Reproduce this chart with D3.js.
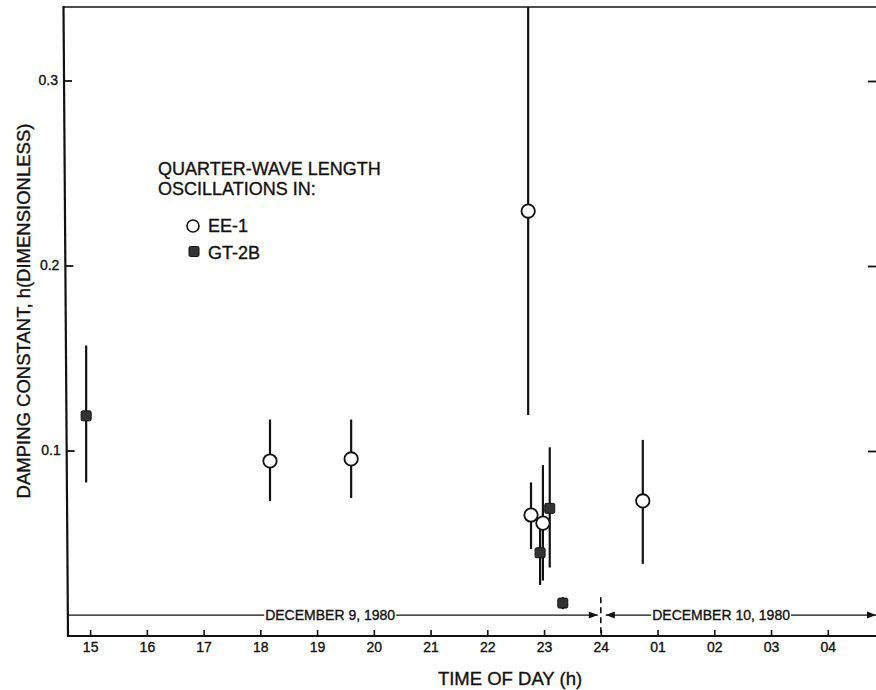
<!DOCTYPE html>
<html>
<head>
<meta charset="utf-8">
<script src="https://cdn.jsdelivr.net/npm/d3@7"></script>
<style>
  body { margin: 0; background: #fff; }
  svg { display: block; font-family: "Liberation Sans", Arial, Helvetica, sans-serif; }
  text { fill: #111; stroke: #111; stroke-width: 0.35; }
  .bar { stroke: #111; stroke-width: 2.2; }
  .frame { stroke: #111; fill: none; }
</style>
</head>
<body>
<svg id="chart" width="876" height="690"></svg>
<script>
// hour of day, counted on from 15 h on Dec 9 (25 = 01 h on Dec 10)
var tickHours = [15, 16, 17, 18, 19, 20, 21, 22, 23, 24, 25, 26, 27, 28];
var tickLabels = ["15", "16", "17", "18", "19", "20", "21", "22", "23", "24", "01", "02", "03", "04"];
var yTicks = [0.1, 0.2, 0.3];
var yTickLabels = ["0.1", "0.2", "0.3"];

// EE-1 (open circles)
var eeHours = [18.17, 19.6, 22.72, 22.77, 22.98, 24.74];
var eeValues = [0.0946, 0.0957, 0.2297, 0.0654, 0.061, 0.073];
var eeLow = [0.073, 0.0746, 0.1195, 0.047, 0.030, 0.039];
var eeHigh = [0.117, 0.117, 0.36, 0.083, 0.0924, 0.106];

// GT-2B (filled squares)
var gtHours = [14.93, 22.93, 23.1, 23.33];
var gtValues = [0.119, 0.045, 0.069, 0.0178];
var gtLow = [0.083, 0.0276, 0.037, 0.0145];
var gtHigh = [0.157, 0.060, 0.102, 0.021];

(function() {
	var svg = d3.select("#chart");
	var pLeft = 68, pRight = 876, pTop = 7, pBottom = 636;

	var x = d3.scaleLinear().domain([14.61, 28.85]).range([pLeft, pRight]);
	var y = d3.scaleLinear().domain([0, 0.34]).range([pBottom, pTop]);

	// the scanned left edge leans a little: x=63.5 at the top, 68 at the bottom
	var leftEdge = function(py) {
		return 63.5 + 4.5 * (py - pTop) / (pBottom - pTop);
	};

	svg.append("defs").append("clipPath").attr("id", "plot")
		.append("rect").attr("x", pLeft - 4).attr("y", pTop).attr("width", pRight - pLeft + 4).attr("height", pBottom - pTop);

	// frame: left, top, bottom (no right edge inside the picture)
	svg.append("line").attr("class", "frame")
		.attr("x1", leftEdge(pTop)).attr("y1", pTop - 1).attr("x2", leftEdge(pBottom)).attr("y2", pBottom + 1)
		.attr("stroke-width", 2.2);
	svg.append("line").attr("class", "frame").attr("x1", leftEdge(pTop)).attr("y1", pTop).attr("x2", pRight).attr("y2", pTop).attr("stroke-width", 1.6);
	svg.append("line").attr("class", "frame").attr("x1", pLeft).attr("y1", pBottom).attr("x2", pRight).attr("y2", pBottom).attr("stroke-width", 2);

	// x axis, ticks pointing up into the plot
	var xAxis = d3.axisBottom(x)
		.tickValues(tickHours)
		.tickSize(-6)
		.tickPadding(6)
		.tickFormat(function(d, i) { return tickLabels[i]; });

	var gx = svg.append("g").attr("transform", "translate(0," + pBottom + ")").call(xAxis);
	gx.select(".domain").remove();
	gx.selectAll(".tick line").attr("stroke", "#111").attr("stroke-width", 1.6);
	gx.selectAll(".tick text").attr("font-size", 14).attr("font-family", "Liberation Sans, Arial, sans-serif");

	// y axis ticks on the left and on the right, both pointing inward
	var gy = svg.append("g")
		.call(d3.axisLeft(y).tickValues(yTicks).tickSize(-8).tickPadding(6)
			.tickFormat(function(d, i) { return yTickLabels[i]; }));
	gy.select(".domain").remove();
	gy.selectAll(".tick").attr("transform", function(d) {
		return "translate(" + leftEdge(y(d)) + "," + y(d) + ")";
	});
	gy.selectAll(".tick line").attr("stroke", "#111").attr("stroke-width", 1.8);
	gy.selectAll(".tick text").attr("font-size", 14).attr("font-family", "Liberation Sans, Arial, sans-serif");

	var gyr = svg.append("g").attr("transform", "translate(" + pRight + ",0)")
		.call(d3.axisRight(y).tickValues(yTicks).tickSize(-8).tickFormat(""));
	gyr.select(".domain").remove();
	gyr.selectAll(".tick line").attr("stroke", "#111").attr("stroke-width", 1.8);

	// axis titles
	svg.append("text")
		.attr("x", 510).attr("y", 685)
		.attr("text-anchor", "middle")
		.attr("font-size", 18.5)
		.text("TIME OF DAY (h)");

	svg.append("text")
		.attr("transform", "translate(30,311) rotate(-90)")
		.attr("text-anchor", "middle")
		.attr("font-size", 18.5)
		.text("DAMPING CONSTANT, h(DIMENSIONLESS)");

	// date annotations along the bottom
	var dateY = y(0.0113);
	var arrow = function(px, dir) {
		var l = 9, w = 3.5;
		svg.append("path")
			.attr("d", "M" + px + "," + dateY + "L" + (px - dir * l) + "," + (dateY - w) + "L" + (px - dir * l) + "," + (dateY + w) + "Z")
			.attr("fill", "#111");
	};
	var dateLabel = function(label, cx, x1, x2, arrowLeft, arrowRight) {
		var t = svg.append("text")
			.attr("x", cx).attr("y", dateY + 5)
			.attr("text-anchor", "middle")
			.attr("font-size", 14)
			.text(label);
		var half = t.node().getComputedTextLength() / 2;
		svg.append("line").attr("x1", x1).attr("x2", cx - half - 1).attr("y1", dateY).attr("y2", dateY)
			.attr("stroke", "#111").attr("stroke-width", 1.2);
		svg.append("line").attr("x1", cx + half + 1).attr("x2", x2).attr("y1", dateY).attr("y2", dateY)
			.attr("stroke", "#111").attr("stroke-width", 1.2);
		if (arrowLeft) arrow(x1, -1);
		if (arrowRight) arrow(x2, 1);
	};
	dateLabel("DECEMBER 9, 1980", x(19.23), leftEdge(dateY), x(24) - 3, false, true);
	dateLabel("DECEMBER 10, 1980", x(26.12), x(24) + 5, pRight, true, true);

	svg.append("line")
		.attr("x1", x(24)).attr("x2", x(24))
		.attr("y1", y(0.021)).attr("y2", pBottom)
		.attr("stroke", "#111").attr("stroke-width", 1.6)
		.attr("stroke-dasharray", "6,4");

	// data
	var plot = svg.append("g").attr("clip-path", "url(#plot)");

	var ee = eeHours.map(function(h, i) {
		return {h: h, v: eeValues[i], lo: eeLow[i], hi: eeHigh[i]};
	});
	var gt = gtHours.map(function(h, i) {
		return {h: h, v: gtValues[i], lo: gtLow[i], hi: gtHigh[i]};
	});

	plot.selectAll(".bar").data(ee.concat(gt)).enter().append("line")
		.attr("class", "bar")
		.attr("x1", function(d) { return x(d.h); })
		.attr("x2", function(d) { return x(d.h); })
		.attr("y1", function(d) { return y(d.hi); })
		.attr("y2", function(d) { return y(d.lo); });

	var sq = 10;
	plot.selectAll(".gt").data(gt).enter().append("rect")
		.attr("class", "gt")
		.attr("x", function(d) { return x(d.h) - sq / 2; })
		.attr("y", function(d) { return y(d.v) - sq / 2; })
		.attr("width", sq).attr("height", sq)
		.attr("rx", 1.5)
		.attr("fill", "#333").attr("stroke", "#111").attr("stroke-width", 1);

	plot.selectAll(".ee").data(ee).enter().append("circle")
		.attr("class", "ee")
		.attr("cx", function(d) { return x(d.h); })
		.attr("cy", function(d) { return y(d.v); })
		.attr("r", 6.7)
		.attr("fill", "#fff").attr("stroke", "#111").attr("stroke-width", 1.8);

	// legend
	var legend = svg.append("g").attr("font-size", 18);
	legend.append("text").attr("x", 158).attr("y", 175).text("QUARTER-WAVE LENGTH");
	legend.append("text").attr("x", 158).attr("y", 195).text("OSCILLATIONS IN:");
	legend.append("circle").attr("cx", 193).attr("cy", 226).attr("r", 6)
		.attr("fill", "#fff").attr("stroke", "#111").attr("stroke-width", 1.6);
	legend.append("text").attr("x", 208).attr("y", 232).text("EE-1");
	legend.append("rect").attr("x", 189).attr("y", 246.5).attr("width", 10).attr("height", 10).attr("rx", 1.5)
		.attr("fill", "#333").attr("stroke", "#111").attr("stroke-width", 1);
	legend.append("text").attr("x", 208).attr("y", 259).text("GT-2B");
})();
</script>
</body>
</html>
